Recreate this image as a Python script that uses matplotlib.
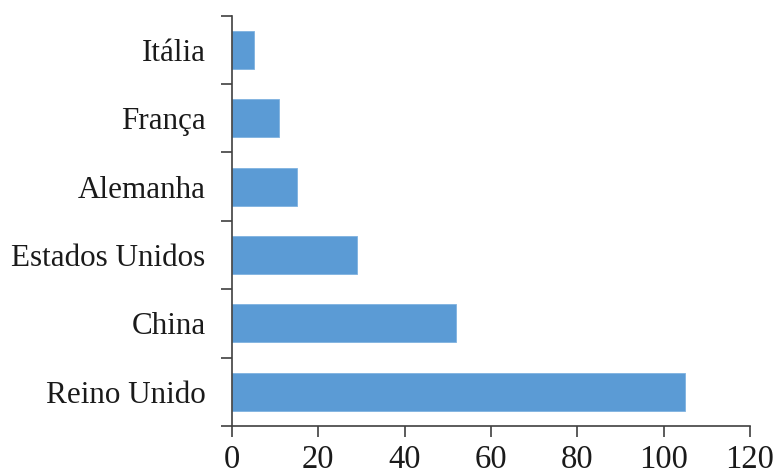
import matplotlib
matplotlib.use("Agg")
import matplotlib.pyplot as plt
import numpy as np

countries = ["Reino Unido", "China", "Estados Unidos", "Alemanha", "França", "Itália"]
values = [105, 52, 29, 15, 11, 5]
x_ticks = [0, 20, 40, 60, 80, 100, 120]

plt.rcParams["font.family"] = ["Liberation Serif", "DejaVu Serif"]

fig = plt.figure(figsize=(7.79, 4.72), dpi=100)
ax = fig.add_axes([0.2978, 0.0975, 0.665, 0.8695])

pos = np.arange(len(countries))
ax.barh(pos, values, height=0.556, color="#5B9BD5", edgecolor="#7FB2E0", linewidth=0.6)

ax.set_xlim(0, 120)
ax.set_ylim(-0.5, len(countries) - 0.5)
ax.set_xticks(x_ticks)
ax.set_xticklabels([str(t) for t in x_ticks])
ax.set_yticks(pos)
ax.set_yticklabels(countries)
ax.set_yticks(np.arange(-0.5, len(countries), 1.0), minor=True)

axis_color = "#404040"
for side in ["top", "right"]:
    ax.spines[side].set_visible(False)
for side in ["left", "bottom"]:
    ax.spines[side].set_color(axis_color)
    ax.spines[side].set_linewidth(1.2)

ax.tick_params(axis="y", which="major", length=0, pad=19, labelsize=22.4, labelcolor="#1a1a1a")
ax.tick_params(axis="y", which="minor", length=8, width=1.2, color=axis_color, direction="out")
ax.tick_params(axis="x", which="major", length=8, width=1.2, color=axis_color, direction="out",
               pad=5, labelsize=23.5, labelcolor="#1a1a1a")

fig.savefig("out.png", dpi=100)
